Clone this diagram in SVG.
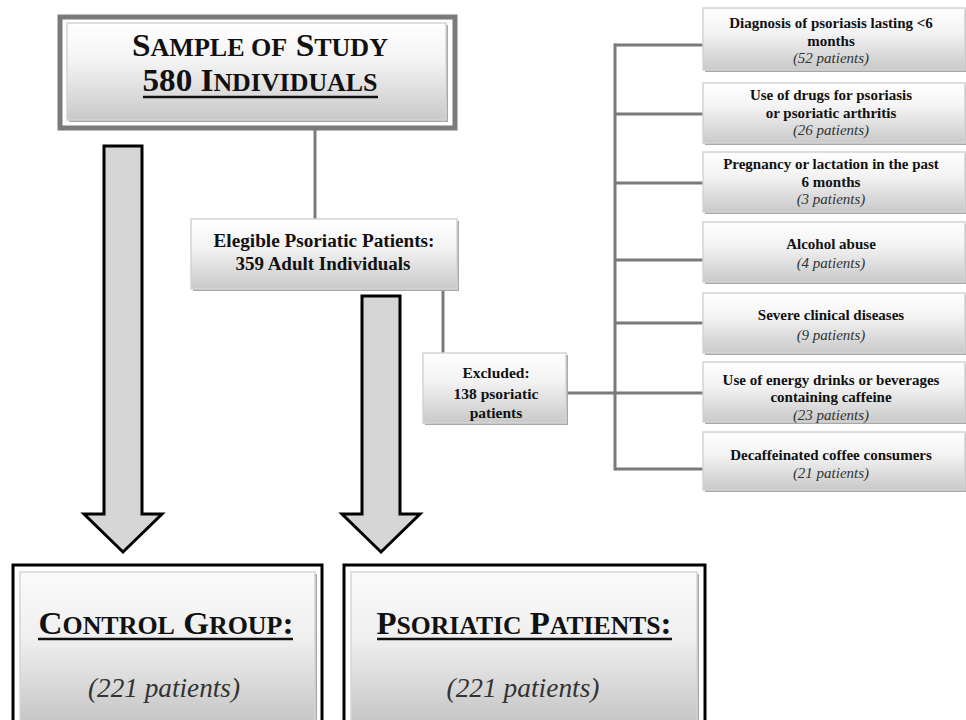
<svg xmlns="http://www.w3.org/2000/svg" width="966" height="720" viewBox="0 0 966 720">
<defs>
<linearGradient id="g" x1="0" y1="0" x2="0" y2="1">
<stop offset="0" stop-color="#ffffff"/>
<stop offset="0.4" stop-color="#f3f3f3"/>
<stop offset="1" stop-color="#c9c9c9"/>
</linearGradient>
<linearGradient id="gb" x1="0" y1="0" x2="0" y2="1">
<stop offset="0" stop-color="#fbfbfb"/>
<stop offset="0.45" stop-color="#efefef"/>
<stop offset="1" stop-color="#c6c6c6"/>
</linearGradient>
</defs>
<style>
.box{fill:url(#g);stroke:#d4d4d4;stroke-width:1.5}
.sh{fill:#a8a8a8}
.t{font-family:"Liberation Serif","Times New Roman",serif;fill:#111;text-anchor:middle}
.b{font-weight:bold}
.i{font-style:italic;fill:#333}
.ul{stroke:#111;stroke-width:2.5}
.con{stroke:#7a7a7a;stroke-width:3;fill:none}
.arrow{fill:#d6d6d6;stroke:#000;stroke-width:3;stroke-linejoin:miter}
</style>
<rect width="966" height="720" fill="#fff"/>

<g id="connectors">
<line class="con" x1="315" y1="129" x2="315" y2="219"/>
<line class="con" x1="443" y1="290" x2="443" y2="353"/>
<line class="con" x1="568" y1="393" x2="615" y2="393"/>
<line class="con" x1="615" y1="43.5" x2="615" y2="470.5"/>
<line class="con" x1="615" y1="45" x2="703" y2="45"/>
<line class="con" x1="615" y1="114" x2="703" y2="114"/>
<line class="con" x1="615" y1="183" x2="703" y2="183"/>
<line class="con" x1="615" y1="260" x2="703" y2="260"/>
<line class="con" x1="615" y1="323" x2="703" y2="323"/>
<line class="con" x1="615" y1="393" x2="703" y2="393"/>
<line class="con" x1="615" y1="469" x2="703" y2="469"/>
</g>

<g id="arrow-left">
<path class="arrow" d="M104,146 L142,146 L142,514 L162,514 L123,552 L84,514 L104,514 Z"/>
</g>
<g id="arrow-right">
<path class="arrow" d="M362,296 L400,296 L400,514 L420,514 L381,552 L342,514 L362,514 Z"/>
</g>

<g id="sample">
<rect x="60" y="17" width="395" height="111" fill="#fdfdfd" stroke="#7a7a7a" stroke-width="5"/>
<rect class="sh" x="69" y="25" width="379" height="97"/>
<rect class="box" x="67" y="23" width="379" height="97"/>
<text class="t b" x="260" y="56" font-size="32" textLength="256" lengthAdjust="spacingAndGlyphs">S<tspan font-size="25">AMPLE OF</tspan> S<tspan font-size="25">TUDY</tspan></text>
<text class="t b" x="260" y="91" font-size="32" textLength="235" lengthAdjust="spacingAndGlyphs">580 I<tspan font-size="25">NDIVIDUALS</tspan></text>
<line class="ul" x1="143" y1="97" x2="378" y2="97"/>
</g>

<g id="eligible">
<rect class="sh" x="193" y="221" width="266" height="70"/>
<rect class="box" x="191" y="219" width="266" height="70"/>
<text class="t b" x="324" y="247" font-size="18" textLength="221" lengthAdjust="spacingAndGlyphs">Elegible Psoriatic Patients:</text>
<text class="t b" x="323" y="270" font-size="18" textLength="175" lengthAdjust="spacingAndGlyphs">359 Adult Individuals</text>
</g>

<g id="excluded">
<rect class="sh" x="425" y="355" width="143" height="70"/>
<rect class="box" x="423" y="353" width="143" height="70"/>
<text class="t b" x="496" y="378" font-size="15.5">Excluded:</text>
<text class="t b" x="496" y="399" font-size="15.5">138 psoriatic</text>
<text class="t b" x="496" y="418" font-size="15.5">patients</text>
</g>

<g id="r1">
<rect class="sh" x="705" y="10" width="262" height="62"/>
<rect class="box" x="703" y="8" width="262" height="62"/>
<text class="t b" x="831" y="28" font-size="15">Diagnosis of psoriasis lasting &lt;6</text>
<text class="t b" x="831" y="46" font-size="15">months</text>
<text class="t i" x="831" y="63" font-size="15">(52 patients)</text>
</g>
<g id="r2">
<rect class="sh" x="705" y="85" width="262" height="60"/>
<rect class="box" x="703" y="83" width="262" height="60"/>
<text class="t b" x="831" y="100" font-size="15">Use of drugs for psoriasis</text>
<text class="t b" x="831" y="118" font-size="15">or psoriatic arthritis</text>
<text class="t i" x="831" y="135" font-size="15">(26 patients)</text>
</g>
<g id="r3">
<rect class="sh" x="705" y="154" width="262" height="60"/>
<rect class="box" x="703" y="152" width="262" height="60"/>
<text class="t b" x="831" y="169" font-size="15">Pregnancy or lactation in the past</text>
<text class="t b" x="831" y="187" font-size="15">6 months</text>
<text class="t i" x="831" y="204" font-size="15">(3 patients)</text>
</g>
<g id="r4">
<rect class="sh" x="705" y="224" width="262" height="60"/>
<rect class="box" x="703" y="222" width="262" height="60"/>
<text class="t b" x="831" y="249" font-size="15">Alcohol abuse</text>
<text class="t i" x="831" y="268" font-size="15">(4 patients)</text>
</g>
<g id="r5">
<rect class="sh" x="705" y="295" width="262" height="60"/>
<rect class="box" x="703" y="293" width="262" height="60"/>
<text class="t b" x="831" y="320" font-size="15">Severe clinical diseases</text>
<text class="t i" x="831" y="340" font-size="15">(9 patients)</text>
</g>
<g id="r6">
<rect class="sh" x="705" y="364" width="262" height="60"/>
<rect class="box" x="703" y="362" width="262" height="60"/>
<text class="t b" x="831" y="385" font-size="15">Use of energy drinks or beverages</text>
<text class="t b" x="831" y="402" font-size="15">containing caffeine</text>
<text class="t i" x="831" y="420" font-size="15">(23 patients)</text>
</g>
<g id="r7">
<rect class="sh" x="705" y="434" width="262" height="58"/>
<rect class="box" x="703" y="432" width="262" height="58"/>
<text class="t b" x="831" y="460" font-size="15">Decaffeinated coffee consumers</text>
<text class="t i" x="831" y="478" font-size="15">(21 patients)</text>
</g>

<g id="control">
<rect x="13" y="565" width="309" height="160" fill="#fff" stroke="#000" stroke-width="3"/>
<rect class="sh" x="22" y="574" width="295" height="150"/>
<rect x="20" y="572" width="295" height="150" fill="url(#gb)" stroke="#d6d6d6" stroke-width="1.5"/>
<text class="t b" x="166" y="634" font-size="32" textLength="255" lengthAdjust="spacingAndGlyphs">C<tspan font-size="25">ONTROL</tspan> G<tspan font-size="25">ROUP</tspan>:</text>
<line class="ul" x1="38" y1="639" x2="293" y2="639"/>
<text class="t i" x="164" y="697" font-size="27" fill="#222" textLength="152" lengthAdjust="spacingAndGlyphs">(221 patients)</text>
</g>
<g id="psoriatic">
<rect x="344" y="565" width="361" height="160" fill="#fff" stroke="#000" stroke-width="3"/>
<rect class="sh" x="353" y="574" width="346" height="150"/>
<rect x="351" y="572" width="346" height="150" fill="url(#gb)" stroke="#d6d6d6" stroke-width="1.5"/>
<text class="t b" x="524" y="634" font-size="32" textLength="295" lengthAdjust="spacingAndGlyphs">P<tspan font-size="25">SORIATIC</tspan> P<tspan font-size="25">ATIENTS</tspan>:</text>
<line class="ul" x1="377" y1="639" x2="672" y2="639"/>
<text class="t i" x="523" y="697" font-size="27" fill="#222" textLength="153" lengthAdjust="spacingAndGlyphs">(221 patients)</text>
</g>
</svg>
